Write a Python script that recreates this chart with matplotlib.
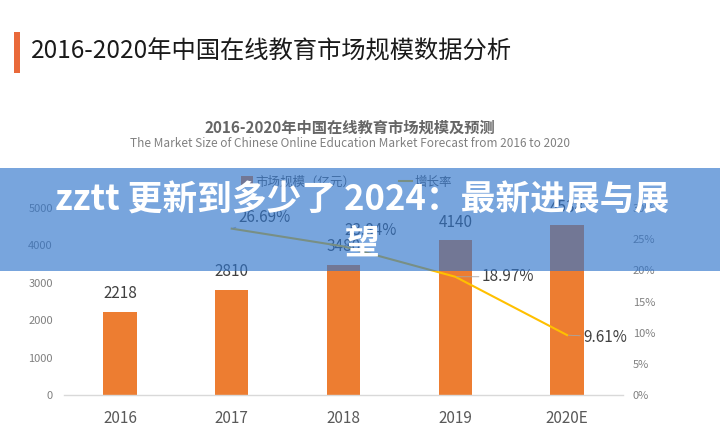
import matplotlib
matplotlib.use("Agg")
import matplotlib.pyplot as plt
import numpy as np
from matplotlib.patches import Rectangle, Patch
from matplotlib.lines import Line2D

plt.rcParams["font.family"] = ["Noto Sans CJK SC", "DejaVu Sans"]

# data
years = ["2016", "2017", "2018", "2019", "2020E"]
market_size = [2218, 2810, 3480, 4140, 4538]
growth_years = ["2017", "2018", "2019", "2020E"]
growth_rate = [26.69, 23.84, 18.97, 9.61]
left_ticks = [0, 1000, 2000, 3000, 4000, 5000]
right_ticks = [0, 5, 10, 15, 20, 25, 30]

# label offsets (points) for the growth-rate labels
growth_offsets = [(5, 8), (1, 11.5), (19, 0), (11.5, -1.4)]

BAR = "#ED7D31"
LINE = "#FFC000"

fig = plt.figure(figsize=(7.2, 4.41), dpi=100)
fig.patch.set_facecolor("white")

ax = fig.add_axes([64 / 720, 1 - 395 / 441, 559 / 720, 187 / 441])
x = np.arange(len(years))
ax.bar(x, market_size, width=0.3, color=BAR)
ax.set_xlim(-0.5, len(years) - 0.5)
ax.set_ylim(0, 5000)
ax.set_xticks(x)
ax.set_xticklabels(years, fontsize=11, color="#595959")
ax.set_yticks(left_ticks)
ax.set_yticklabels([str(t) for t in left_ticks], fontsize=8, color="#808080")
ax.tick_params(axis="x", length=0, pad=11)
ax.tick_params(axis="y", length=0, pad=8)
for side in ["top", "left", "right"]:
    ax.spines[side].set_visible(False)
ax.spines["bottom"].set_color("#d9d9d9")
ax.spines["bottom"].set_linewidth(1.0)

for xi, v in zip(x, market_size):
    ax.annotate(str(v), (xi, v), xytext=(0, 13), textcoords="offset points",
                ha="center", va="center", fontsize=11, color="#404040")

ax2 = ax.twinx()
ax2.set_ylim(0, 30)
ax2.set_yticks(right_ticks)
ax2.set_yticklabels([f"{t}%" for t in right_ticks], fontsize=8, color="#808080")
ax2.tick_params(axis="y", length=0, pad=7)
for side in ["top", "left", "right", "bottom"]:
    ax2.spines[side].set_visible(False)

gx = [years.index(y) for y in growth_years]
ax2.plot(gx, growth_rate, color=LINE, lw=1.5)
for xi, v, off in zip(gx, growth_rate, growth_offsets):
    ax2.annotate(f"{v:.2f}%", (xi, v), xytext=off, textcoords="offset points",
                 ha="left", va="center", fontsize=11, color="#404040",
                 arrowprops=dict(arrowstyle="-", color="#a6a6a6", lw=0.6,
                                 shrinkA=0, shrinkB=1))

handles = [Patch(facecolor=BAR, edgecolor="none"),
           Line2D([0], [0], color=LINE, lw=1.5)]
ax2.legend(handles, ["市场规模（亿元）", "增长率"], loc="center",
           bbox_to_anchor=(0.505, 1.139), ncol=2, frameon=False, fontsize=9,
           labelcolor="#595959", handlelength=1.0, handleheight=0.8,
           handletextpad=0.2, columnspacing=3.5)

# page heading and chart titles
fig.add_artist(Rectangle((14 / 720, 1 - 73 / 441), 6 / 720, 41 / 441,
                         transform=fig.transFigure, color="#E9693A", lw=0))
fig.text(31 / 720, 1 - 52 / 441, "2016-2020年中国在线教育市场规模数据分析",
         ha="left", va="center", fontsize=17.5, color="#1a1a1a")
fig.text(350 / 720, 1 - 128 / 441, "2016-2020年中国在线教育市场规模及预测",
         ha="center", va="center", fontsize=11, fontweight="bold", color="#666666")
fig.text(350 / 720, 1 - 144 / 441,
         "The Market Size of Chinese Online Education Market Forecast from 2016 to 2020",
         ha="center", va="center", fontsize=8.5, color="#808080")

# overlay banner
fig.add_artist(Rectangle((0, 1 - 271 / 441), 1, 103 / 441,
                         transform=fig.transFigure, facecolor=(0.19, 0.46, 0.80),
                         alpha=0.65, lw=0, zorder=10))
fig.text(362 / 720, 1 - 200 / 441, "zztt 更新到多少了 2024：最新进展与展",
         ha="center", va="center", fontsize=25, fontweight="black",
         color="white", zorder=11)
fig.text(362 / 720, 1 - 243 / 441, "望",
         ha="center", va="center", fontsize=25, fontweight="black",
         color="white", zorder=11)

fig.savefig("out.png", dpi=100)
